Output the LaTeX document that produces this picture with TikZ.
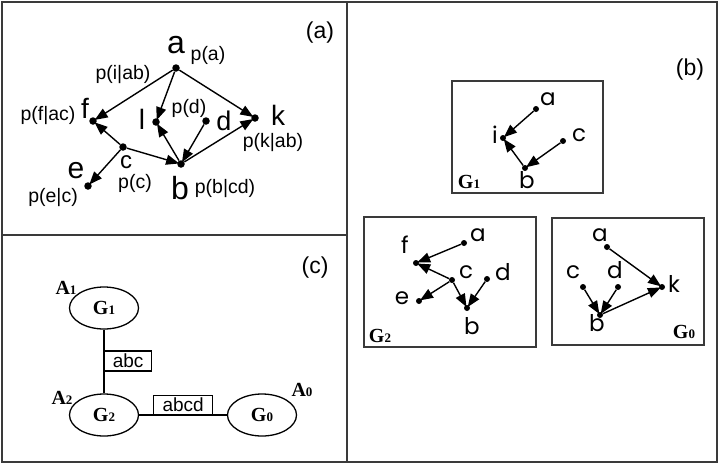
\documentclass[tikz,border=0pt]{standalone}
\usepackage{fontspec}
\setmainfont{Liberation Sans}
\newfontfamily\roundfont{Poppins}
\newfontfamily\timesfont{Liberation Serif}
\usetikzlibrary{arrows.meta,positioning,shapes.geometric}
\definecolor{FrameGray}{HTML}{3A3A3A}
\newcommand{\gsub}[2]{#1{\fontsize{13}{13}\selectfont #2}}

\begin{document}
\begin{tikzpicture}[x=1pt, y=-1pt,
	dot/.style={circle, fill=black, inner sep=0pt, minimum size=7.5pt},
	sdot/.style={circle, fill=black, inner sep=0pt, minimum size=6pt},
	edge/.style={-{Triangle[length=13pt,width=10pt]}, line width=1.4pt, shorten >=-2pt},
	frame/.style={draw=FrameGray, line width=1.6pt},
	gbox/.style={draw=FrameGray, line width=1.5pt},
	var/.style={inner sep=0pt, font=\fontsize{28}{28}\selectfont},
	prob/.style={inner sep=0pt, font=\fontsize{19.5}{19.5}\selectfont},
	tag/.style={inner sep=0pt, font=\fontsize{23}{23}\selectfont},
	gvar/.style={inner sep=0pt, font=\roundfont\fontsize{23}{23}\selectfont},
	gname/.style={inner sep=0pt, font=\timesfont\bfseries\fontsize{20}{20}\selectfont},
	clique/.style={ellipse, draw, line width=1.3pt, minimum width=69pt, minimum height=42pt,
		font=\timesfont\bfseries\fontsize{20}{20}\selectfont},
	sepset/.style={draw, line width=1.3pt, inner sep=0pt, font=\fontsize{19}{19}\selectfont}
]
\useasboundingbox (0,0) rectangle (720,464);

% panels
\draw[frame] (2,2) rectangle (717,462);
\draw[frame] (347,2) -- (347,462);
\draw[frame] (2,235) -- (347,235);

% (a) the network
\node[tag] (taga) at (320,33) {(a)};
\node[dot] (a) at (176,68) {};
\node[dot] (f) at (93,121) {};
\node[dot] (i) at (156,122) {};
\node[dot] (d) at (206,121) {};
\node[dot] (k) at (255,118) {};
\node[dot] (c) at (123,147) {};
\node[dot] (b) at (181,164) {};
\node[dot] (e) at (88,186) {};

\node[var, font=\fontsize{32}{32}\selectfont] at (176,45) {a};
\node[var] at (85,108) {f};
\node[var] at (142,119) {l};
\node[var, font=\fontsize{27}{27}\selectfont] at (224,121) {d};
\node[var] at (278,115) {k};
\node[var, font=\fontsize{24}{24}\selectfont] at (126,162) {c};
\node[var, font=\fontsize{32}{32}\selectfont] at (180,188) {b};
\node[var, font=\fontsize{30}{30}\selectfont] at (76,171) {e};

\node[prob] at (208,55) {p(a)};
\node[prob] at (123,74) {p(i|ab)};
\node[prob] at (48,115) {p(f|ac)};
\node[prob] at (189,108) {p(d)};
\node[prob] at (273,142) {p(k|ab)};
\node[prob] at (135,183) {p(c)};
\node[prob] at (225,188) {p(b|cd)};
\node[prob] at (53,197) {p(e|c)};

\draw[edge] (a) -- (f);
\draw[edge] (a) -- (i);
\draw[edge] (a) -- (k);
\draw[edge] (d) -- (b);
\draw[edge] (b) -- (i);
\draw[edge] (b) -- (k);
\draw[edge] (c) -- (f);
\draw[edge] (c) -- (b);
\draw[edge] (c) -- (e);

% (b) the three subgraphs
\node[tag] (tagb) at (690,70) {(b)};

\draw[gbox] (452,81) rectangle (603,193);
\node[gname] (nameG1) at (469,182) {\gsub{G}{1}};
\node[sdot] (ga1) at (536,109) {};
\node[sdot] (gi1) at (503,138) {};
\node[sdot] (gc1) at (563,141) {};
\node[sdot] (gb1) at (525,168) {};
\node[gvar] at (548,99) {a};
\node[gvar] at (495,135) {i};
\node[gvar] at (579,135) {c};
\node[gvar] at (527,180) {b};
\draw[edge] (ga1) -- (gi1);
\draw[edge] (gb1) -- (gi1);
\draw[edge] (gc1) -- (gb1);

\draw[gbox] (364,217) rectangle (536,347);
\node[gname] (nameG2) at (380,336) {\gsub{G}{2}};
\node[sdot] (ga2) at (464,243) {};
\node[sdot] (gf2) at (416,263) {};
\node[sdot] (gc2) at (452,280) {};
\node[sdot] (gd2) at (487,279) {};
\node[sdot] (ge2) at (419,301) {};
\node[sdot] (gb2) at (467,308) {};
\node[gvar] at (478,235) {a};
\node[gvar] at (405,245) {f};
\node[gvar] at (466,272) {c};
\node[gvar] at (503,272) {d};
\node[gvar] at (402,298) {e};
\node[gvar] at (472,326) {b};
\draw[edge] (ga2) -- (gf2);
\draw[edge] (gc2) -- (gf2);
\draw[edge] (gc2) -- (ge2);
\draw[edge] (gc2) -- (gb2);
\draw[edge] (gd2) -- (gb2);

\draw[gbox] (552,218) rectangle (704,345);
\node[gname] (nameG0) at (684,332) {\gsub{G}{0}};
\node[sdot] (ga0) at (607,247) {};
\node[sdot] (gc0) at (583,287) {};
\node[sdot] (gd0) at (618,287) {};
\node[sdot] (gk0) at (662,287) {};
\node[sdot] (gb0) at (600,315) {};
\node[gvar] at (600,235) {a};
\node[gvar] at (573,272) {c};
\node[gvar] at (615,270) {d};
\node[gvar] at (674,284) {k};
\node[gvar] at (597,323) {b};
\draw[edge] (ga0) -- (gk0);
\draw[edge] (gc0) -- (gb0);
\draw[edge] (gd0) -- (gb0);
\draw[edge] (gb0) -- (gk0);

% (c) the junction tree
\node[tag] (tagc) at (315,268) {(c)};
\node[clique] (G1) at (104,308) {\gsub{G}{1}};
\node[clique] (G2) at (104,415) {\gsub{G}{2}};
\node[clique] (G0) at (262,415) {\gsub{G}{0}};
\node[gname] at (66,288) {\gsub{A}{1}};
\node[gname] at (62,398) {\gsub{A}{2}};
\node[gname] at (302,390) {\gsub{A}{0}};
\draw[line width=1.3pt] (G1) -- (G2);
\draw[line width=1.3pt] (G2) -- (G0);
\node[sepset, minimum width=47pt, minimum height=20pt, anchor=west] (abc) at (104,361) {abc};
\node[sepset, minimum width=59pt, minimum height=19pt, anchor=south west] (abcd) at (153,415) {abcd};
\end{tikzpicture}
\end{document}
